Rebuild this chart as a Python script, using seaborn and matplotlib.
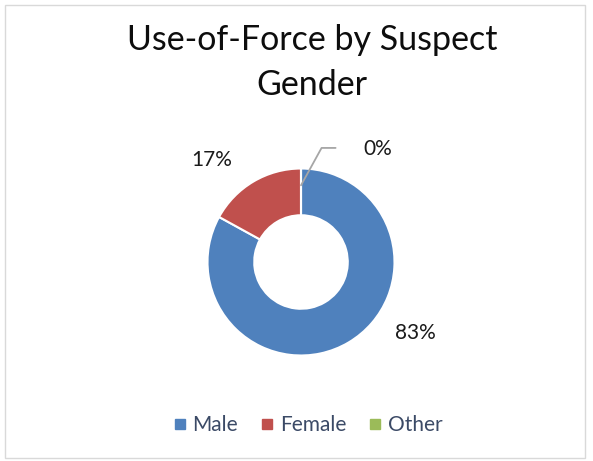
import matplotlib
matplotlib.use("Agg")
import matplotlib.pyplot as plt
import seaborn as sns
from matplotlib.patches import Rectangle
from matplotlib.lines import Line2D

sns.set_theme(style="white")
plt.rcParams['font.family'] = ['Lato', 'DejaVu Sans']

categories = ["Male", "Female", "Other"]
values = [83, 17, 0]
pct_labels = ["83%", "17%", "0%"]
colors = ["#4F81BD", "#C0504D", "#9BBB59"]
title = "Use-of-Force by Suspect\nGender"

W, H = 593, 461
fig = plt.figure(figsize=(W / 100, H / 100), dpi=100)
fig.patch.set_facecolor("white")

# chart border
fig.patches.append(Rectangle((5 / W, 3 / H), 580 / W, 453 / H, transform=fig.transFigure,
                             fill=False, edgecolor="#D9D9D9", linewidth=1.0))

cx, cy, r = 301, H - 262, 93.5
ax = fig.add_axes([(cx - r) / W, (cy - r) / H, 2 * r / W, 2 * r / H])
wedges, _ = ax.pie(values, colors=colors, startangle=90, counterclock=False,
                   radius=1.0, wedgeprops=dict(width=0.5, edgecolor="white", linewidth=1.5))
ax.set_xlim(-1, 1)
ax.set_ylim(-1, 1)
ax.set_aspect("equal")
ax.axis("off")

# data labels (Excel-style placement)
lab_pos = {"83%": (1.22, -0.76), "17%": (-0.95, 1.09), "0%": (0.82, 1.21)}
for lab in pct_labels:
    x, y = lab_pos[lab]
    ax.text(x, y, lab, ha="center", va="center", fontsize=15, color="#1A1A1A", clip_on=False)

# leader line for 0%
ax.add_line(Line2D([0.0, 0.22, 0.37], [0.82, 1.22, 1.22], color="#A6A6A6", linewidth=1.3, clip_on=False))

fig.text(312 / W, 1 - 62.5 / H, title, ha="center", va="center", fontsize=24.5,
         color="#0D0D0D", linespacing=1.5)

handles = [plt.Line2D([], [], marker="s", linestyle="", markersize=7, color=c) for c in colors]
fig.legend(handles, categories, loc="center", bbox_to_anchor=(306 / W, 1 - 425 / H), ncol=3,
           frameon=False, fontsize=15, handletextpad=0.1, handlelength=1.0, columnspacing=0.9,
           labelcolor="#3B4A66")

fig.savefig("out.png", dpi=100)
